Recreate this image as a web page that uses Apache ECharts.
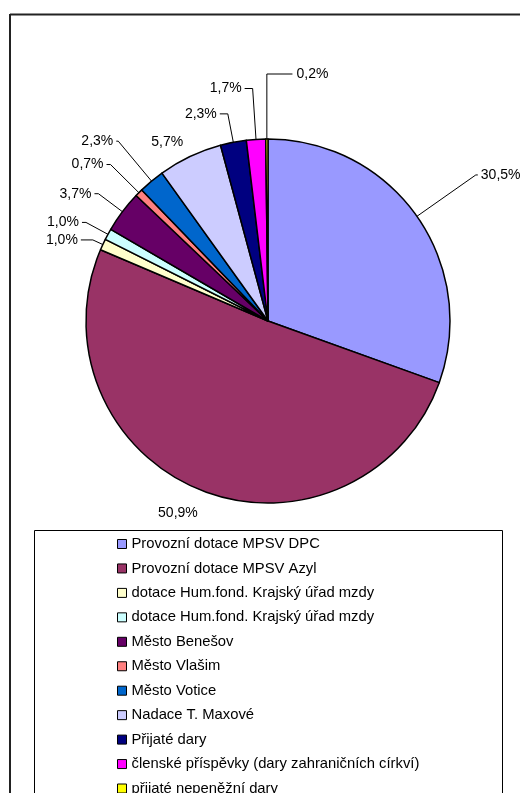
<!DOCTYPE html>
<html>
<head>
<meta charset="utf-8">
<script src="https://cdn.jsdelivr.net/npm/echarts@6/dist/echarts.min.js"></script>
<style>
html,body{margin:0;padding:0;background:#fff;}
#chart{width:520px;height:793px;}
</style>
</head>
<body>
<div id="chart"></div>
<script>
// ---- data ----
const categories = [
  'Provozní dotace MPSV DPC',
  'Provozní dotace MPSV Azyl',
  'dotace Hum.fond. Krajský úřad mzdy',
  'dotace Hum.fond. Krajský úřad mzdy',
  'Město Benešov',
  'Město Vlašim',
  'Město Votice',
  'Nadace T. Maxové',
  'Přijaté dary',
  'členské příspěvky (dary zahraničních církví)',
  'přijaté nepeněžní dary'
];
const shares = [30.5, 50.9, 1.0, 1.0, 3.7, 0.7, 2.3, 5.7, 2.3, 1.7, 0.2];
const colors = ['#9999FF', '#993366', '#FFFFCC', '#CCFFFF', '#660066', '#FF8080',
                '#0066CC', '#CCCCFF', '#000080', '#FF00FF', '#FFFF00'];

// ---- label leader-line styling (px lengths, per slice) ----
const lineLen  = [72, 24, 11, 25, 30, 40, 52, 16, 29, 51, 65];
const lineLen2 = [2, -8, 12, 4, 4, 4, 2, -3, 8, 8, -26];
const lineShow = [true, false, true, true, true, true, true, false, true, true, true];
const labelDist = [3, 3, 3, 3, 3, 3, 3, 3, 3, 3, -36];

// unique names for legend (duplicate category gets an invisible trailing space)
const seen = {};
const names = categories.map(n => {
  let k = n;
  while (seen[k]) k = k + ' ';
  seen[k] = true;
  return k;
});

const FONT = 'Arial, "Liberation Sans", sans-serif';

const pieData = shares.map((v, i) => ({
  name: names[i],
  value: v,
  itemStyle: { color: colors[i] },
  labelLine: { show: lineShow[i], length: lineLen[i], length2: lineLen2[i] },
  label: { distanceToLabelLine: labelDist[i] }
}));

const chart = echarts.init(document.getElementById('chart'), null, { renderer: 'canvas' });
chart.setOption({
  animation: false,
  backgroundColor: '#ffffff',
  graphic: [
    { type: 'line', shape: { x1: 10, y1: 14.5, x2: 520, y2: 14.5 }, style: { stroke: '#222', lineWidth: 2 }, z: 0 },
    { type: 'line', shape: { x1: 10, y1: 14, x2: 10, y2: 793 }, style: { stroke: '#222', lineWidth: 2 }, z: 0 },
    { type: 'rect', shape: { x: 34.5, y: 530.5, width: 468, height: 300 }, style: { fill: 'none', stroke: '#000', lineWidth: 1 }, z: 0 }
  ],
  legend: {
    orient: 'vertical',
    left: 117,
    top: 536,
    height: 320,
    padding: 0,
    itemWidth: 9,
    itemHeight: 9,
    itemGap: 8.45,
    icon: 'rect',
    itemStyle: { borderColor: '#000', borderWidth: 1 },
    textStyle: { fontFamily: FONT, fontSize: 14.8, color: '#000', lineHeight: 16 },
    data: names
  },
  series: [{
    type: 'pie',
    center: [268, 321],
    radius: 182,
    startAngle: 90,
    clockwise: true,
    avoidLabelOverlap: false,
    itemStyle: { borderColor: '#000', borderWidth: 1.5 },
    emphasis: { disabled: true },
    label: {
      show: true,
      position: 'outside',
      fontFamily: FONT,
      fontSize: 14,
      color: '#000',
      formatter: p => p.value.toFixed(1).replace('.', ',') + '%'
    },
    labelLine: { lineStyle: { color: '#000', width: 1 } },
    data: pieData
  }]
});
</script>
</body>
</html>
